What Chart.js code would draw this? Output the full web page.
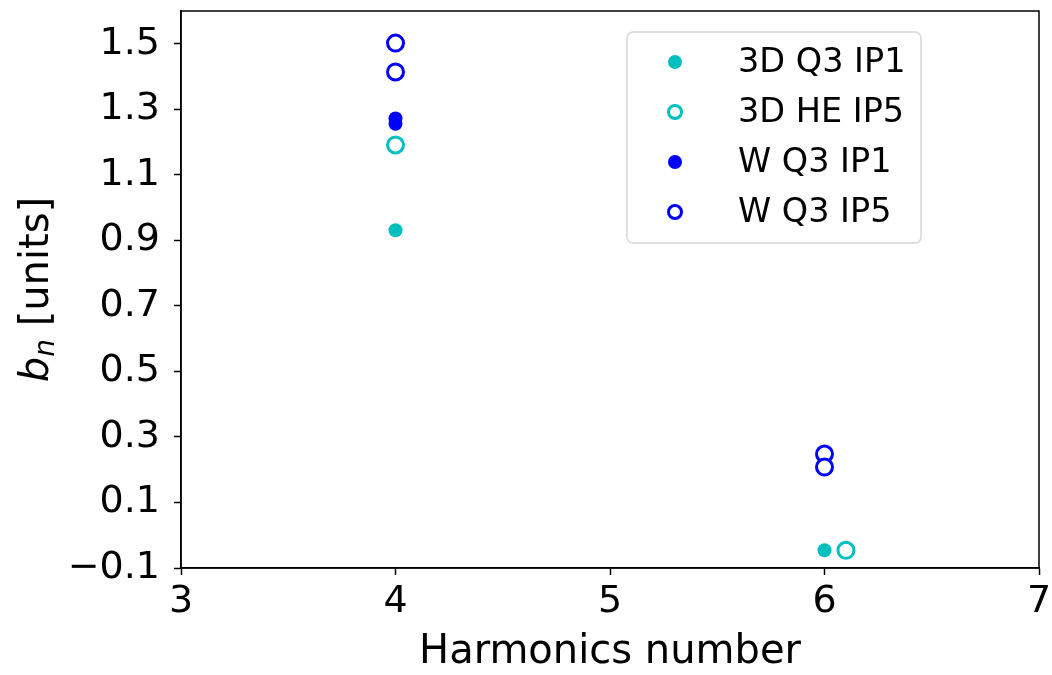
<!DOCTYPE html>
<html>
<head>
<meta charset="utf-8">
<script src="https://cdn.jsdelivr.net/npm/chart.js@4/dist/chart.umd.min.js"></script>
<style>
  html, body { margin: 0; padding: 0; background: #fff; }
  #wrap { width: 1052px; height: 675px; }
</style>
</head>
<body>
<div id="wrap"><canvas id="chartBox"></canvas></div>
<script>
const seriesNames = ['3D Q3 IP1', '3D HE IP5', 'W Q3 IP1', 'W Q3 IP5'];

const q3ip1_3d = [{ x: 4, y: 0.931 }, { x: 6, y: -0.046 }];
const heip5_3d = [{ x: 4, y: 1.191 }, { x: 6.1, y: -0.046 }];
const q3ip1_w = [{ x: 4, y: 1.272 }, { x: 4, y: 1.256 }];
const q3ip5_w = [{ x: 4, y: 1.502 }, { x: 4, y: 1.414 }, { x: 6, y: 0.248 }, { x: 6, y: 0.208 }];

const xTicks = [3, 4, 5, 6, 7];
const yTicks = [-0.1, 0.1, 0.3, 0.5, 0.7, 0.9, 1.1, 1.3, 1.5];

const CYAN = '#00bfbf';
const BLUE = '#0000ff';
const FONT = "'DejaVu Sans', sans-serif";

function filled(label, data, color) {
  return {
    label: label, data: data,
    backgroundColor: color, borderColor: color,
    pointRadius: 7, pointBorderWidth: 0, pointHoverRadius: 7
  };
}
function hollow(label, data, color) {
  return {
    label: label, data: data,
    backgroundColor: '#ffffff', borderColor: color,
    pointRadius: 8, pointBorderWidth: 3, pointHoverRadius: 8
  };
}

const datasets = [
  filled(seriesNames[0], q3ip1_3d, CYAN),
  hollow(seriesNames[1], heip5_3d, CYAN),
  filled(seriesNames[2], q3ip1_w, BLUE),
  hollow(seriesNames[3], q3ip5_w, BLUE)
];

// frame, axis titles and legend drawn by hand
const decorations = {
  id: 'decorations',
  afterDraw(chart) {
    const ctx = chart.ctx;
    const a = chart.chartArea;
    ctx.save();
    ctx.strokeStyle = '#000';
    ctx.lineWidth = 1.5;
    ctx.strokeRect(a.left, a.top, a.right - a.left, a.bottom - a.top);

    ctx.fillStyle = '#000';
    ctx.font = '40px ' + FONT;
    ctx.textAlign = 'center';
    ctx.textBaseline = 'alphabetic';
    ctx.fillText('Harmonics number', (a.left + a.right) / 2, 663);

    // y title: italic b with subscript n
    ctx.translate(48, (a.top + a.bottom) / 2);
    ctx.rotate(-Math.PI / 2);
    ctx.textAlign = 'left';
    const mainFont = '40px ' + FONT;
    const subFont = 'italic 28px ' + FONT;
    ctx.font = 'italic ' + mainFont;
    const wb = ctx.measureText('b').width;
    ctx.font = subFont;
    const wn = ctx.measureText('n').width;
    ctx.font = mainFont;
    const wu = ctx.measureText(' [units]').width;
    const x0 = -(wb + wn + wu) / 2;
    ctx.font = 'italic ' + mainFont;
    ctx.fillText('b', x0, 0);
    ctx.font = subFont;
    ctx.fillText('n', x0 + wb, 6);
    ctx.font = mainFont;
    ctx.fillText(' [units]', x0 + wb + wn, 0);
    ctx.restore();

    // legend box
    ctx.save();
    const lx = 627, ly = 32, lw = 294, lh = 211, r = 6;
    ctx.beginPath();
    ctx.moveTo(lx + r, ly);
    ctx.arcTo(lx + lw, ly, lx + lw, ly + lh, r);
    ctx.arcTo(lx + lw, ly + lh, lx, ly + lh, r);
    ctx.arcTo(lx, ly + lh, lx, ly, r);
    ctx.arcTo(lx, ly, lx + lw, ly, r);
    ctx.closePath();
    ctx.fillStyle = 'rgba(255,255,255,0.8)';
    ctx.fill();
    ctx.strokeStyle = '#d6d6d6';
    ctx.lineWidth = 1.5;
    ctx.stroke();

    ctx.font = '33.5px ' + FONT;
    ctx.textAlign = 'left';
    ctx.textBaseline = 'middle';
    datasets.forEach((ds, i) => {
      const cy = 62 + i * 50;
      ctx.beginPath();
      if (ds.pointBorderWidth > 0) {
        ctx.arc(675, cy, 6.5, 0, Math.PI * 2);
        ctx.fillStyle = '#fff';
        ctx.fill();
        ctx.lineWidth = 3;
        ctx.strokeStyle = ds.borderColor;
        ctx.stroke();
      } else {
        ctx.arc(675, cy, 7, 0, Math.PI * 2);
        ctx.fillStyle = ds.backgroundColor;
        ctx.fill();
      }
      ctx.fillStyle = '#000';
      ctx.fillText(ds.label, 738, cy + 1);
    });
    ctx.restore();
  }
};

const fmt = v => {
  const s = Number(v).toFixed(1);
  return s.startsWith('-') ? '\u2212' + s.slice(1) : s;
};

new Chart(document.getElementById('chartBox'), {
  type: 'scatter',
  data: { datasets: datasets },
  options: {
    responsive: true,
    maintainAspectRatio: false,
    animation: false,
    layout: { padding: { left: 0, right: 13, top: 10, bottom: 0 } },
    plugins: { legend: { display: false }, tooltip: { enabled: false } },
    scales: {
      x: {
        type: 'linear', min: 3, max: 7,
        afterBuildTicks: s => { s.ticks = xTicks.map(v => ({ value: v })); },
        afterFit: s => { s.height = 107; s.paddingLeft = 0; s.paddingRight = 0; },
        grid: { drawOnChartArea: false, drawTicks: true, tickLength: 7, tickWidth: 1.5, color: '#000' },
        border: { display: true, color: '#000', width: 1.5 },
        ticks: { color: '#000', font: { family: FONT, size: 38 }, padding: 4, callback: v => String(v) }
      },
      y: {
        type: 'linear', min: -0.1, max: 1.6,
        afterBuildTicks: s => { s.ticks = yTicks.map(v => ({ value: v })); },
        afterFit: s => { s.width = 181; s.paddingTop = 0; s.paddingBottom = 0; },
        grid: { drawOnChartArea: false, drawTicks: true, tickLength: 7, tickWidth: 1.5, color: '#000' },
        border: { display: true, color: '#000', width: 1.5 },
        ticks: { color: '#000', font: { family: FONT, size: 38 }, padding: 14, callback: v => fmt(v) }
      }
    }
  },
  plugins: [decorations]
});
</script>
</body>
</html>
